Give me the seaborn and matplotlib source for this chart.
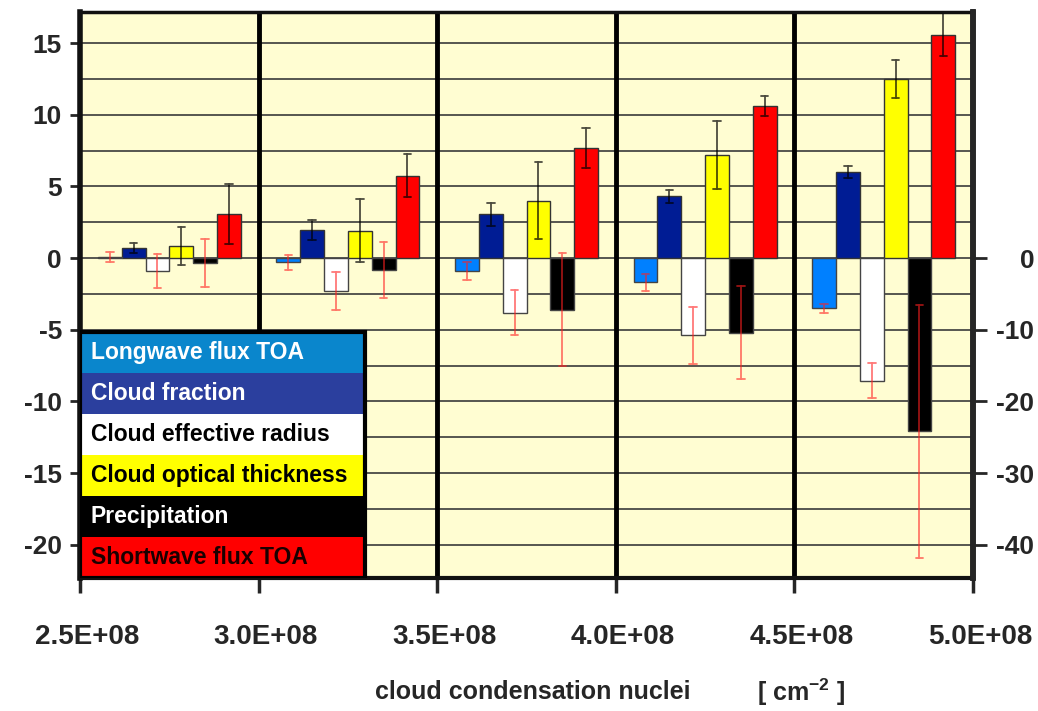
import numpy as np
import pandas as pd
import matplotlib
matplotlib.use("Agg")
import matplotlib.pyplot as plt
import matplotlib.transforms as mtransforms
import seaborn as sns
from matplotlib.patches import Rectangle
from matplotlib.ticker import MultipleLocator, FuncFormatter

# group centres (cloud condensation nuclei, cm-2)
ccn = [2.75e8, 3.25e8, 3.75e8, 4.25e8, 4.75e8]
series = ["Longwave flux TOA", "Cloud fraction", "Cloud effective radius",
          "Cloud optical thickness", "Precipitation", "Shortwave flux TOA"]

# left axis series
cloud_fraction = [0.7, 1.95, 3.05, 4.3, 6.0]
cloud_fraction_err = [0.35, 0.7, 0.8, 0.45, 0.4]
optical_thickness = [0.85, 1.9, 4.0, 7.2, 12.5]
optical_thickness_err = [1.35, 2.2, 2.7, 2.4, 1.3]
shortwave = [3.05, 5.75, 7.7, 10.6, 15.6]
shortwave_err = [2.1, 1.5, 1.4, 0.7, 1.5]

# right axis series
longwave = [0.2, -0.6, -1.8, -3.4, -7.0]
longwave_err = [0.7, 1.0, 1.3, 1.2, 0.66]
eff_radius = [-1.8, -4.6, -7.6, -10.8, -17.1]
eff_radius_err = [2.4, 2.6, 3.1, 4.0, 2.4]
precip = [-0.7, -1.7, -7.2, -10.4, -24.2]
precip_err = [3.3, 3.9, 7.9, 6.5, 17.6]

bar_colors = {"Longwave flux TOA": "#0080FF", "Cloud fraction": "#001C94",
              "Cloud effective radius": "#FFFFFF", "Cloud optical thickness": "#FFFF00",
              "Precipitation": "#000000", "Shortwave flux TOA": "#FF0000"}
legend_colors = ["#0A86CC", "#2B3F9E", "#FFFFFF", "#FFFF00", "#000000", "#FF0000"]
legend_text_colors = ["white", "white", "black", "black", "white", "#1a0000"]


def rows(name, vals, errs):
    # two points per bar so that min/max give the error range
    out = []
    for x, v, e in zip(ccn, vals, errs):
        out.append((x, name, v - e))
        out.append((x, name, v + e))
    return out


left_df = pd.DataFrame(rows("Cloud fraction", cloud_fraction, cloud_fraction_err)
                       + rows("Cloud optical thickness", optical_thickness, optical_thickness_err)
                       + rows("Shortwave flux TOA", shortwave, shortwave_err),
                       columns=["ccn", "series", "value"])
right_df = pd.DataFrame(rows("Longwave flux TOA", longwave, longwave_err)
                        + rows("Cloud effective radius", eff_radius, eff_radius_err)
                        + rows("Precipitation", precip, precip_err),
                        columns=["ccn", "series", "value"])

sns.set_style("ticks")
plt.rcParams['font.family'] = ['Liberation Sans', 'DejaVu Sans']
plt.rcParams['font.weight'] = 'bold'
plt.rcParams['axes.unicode_minus'] = False
plt.rcParams['mathtext.fontset'] = 'custom'
plt.rcParams['mathtext.rm'] = 'Liberation Sans:bold'
plt.rcParams['mathtext.bf'] = 'Liberation Sans:bold'

fig = plt.figure(figsize=(10.38, 7.11), dpi=100)
ax = fig.add_axes([0.0771, 0.187, 0.8603, 0.796])
ax.set_facecolor("#FFFDD2")
ax2 = ax.twinx()

minmax = lambda v: (v.min(), v.max())

sns.barplot(data=left_df, x="ccn", y="value", hue="series", hue_order=series,
            palette=bar_colors, native_scale=True, estimator="mean", errorbar=minmax,
            capsize=0.25, err_kws={"color": "black", "alpha": 0.7, "linewidth": 1.3},
            edgecolor="#333333", linewidth=1, width=0.8, saturation=1,
            legend=False, ax=ax)
sns.barplot(data=right_df, x="ccn", y="value", hue="series", hue_order=series,
            palette=bar_colors, native_scale=True, estimator="mean", errorbar=minmax,
            capsize=0.25, err_kws={"color": "#FF2020", "alpha": 0.6, "linewidth": 1.3},
            edgecolor="#444444", linewidth=1, width=0.8, saturation=1,
            legend=False, ax=ax2)

ax.set_xlim(2.5e8, 5.0e8)
ax.set_ylim(-22.33, 17.17)
ax2.set_ylim(-44.66, 34.34)

# grid and separators
ax.yaxis.set_major_locator(MultipleLocator(5))
ax.yaxis.set_minor_locator(MultipleLocator(2.5))
ax.grid(axis="y", which="both", color="#3a3a3a", linewidth=1.2)
ax.grid(axis="x", visible=False)
ax.set_axisbelow(True)
for xb in [3.0e8, 3.5e8, 4.0e8, 4.5e8]:
    ax.axvline(xb, color="black", linewidth=3.5, zorder=1.5)

ax.set_xticks([2.5e8, 3.0e8, 3.5e8, 4.0e8, 4.5e8, 5.0e8])
ax.xaxis.set_major_formatter(FuncFormatter(lambda v, p: f"{v:.1E}"))
ax.tick_params(axis="x", length=11, width=2.5, pad=22, labelsize=20)
ax.tick_params(axis="y", which="major", length=7, width=2, pad=6, labelsize=19)
ax.tick_params(axis="y", which="minor", length=0)
ax2.set_yticks([0, -10, -20, -30, -40])
ax2.tick_params(axis="y", length=10, width=2, pad=34, labelsize=19)
for tl in ax2.get_yticklabels():
    tl.set_ha("right")
shift = mtransforms.ScaledTranslation(7 / 100, 0, fig.dpi_scale_trans)
for tl in ax.get_xticklabels():
    tl.set_transform(tl.get_transform() + shift)
for tl in ax.get_xticklabels() + ax.get_yticklabels():
    tl.set_fontweight("bold")

for side, lw in [("left", 4), ("right", 4), ("bottom", 3), ("top", 2.5)]:
    ax.spines[side].set_linewidth(lw)
    ax.spines[side].set_color("#111111")
for side in ["left", "bottom", "top"]:
    ax2.spines[side].set_visible(False)
ax2.spines["right"].set_linewidth(4)

ax.set_xlabel("")
ax.set_ylabel("")
ax2.set_xlabel("")
ax2.set_ylabel("")

fig.text(0.513, 0.027, "cloud condensation nuclei", ha="center", va="center",
         fontsize=18, fontweight="bold")
fig.text(0.772, 0.027, r"[ cm$^{-2}$ ]", ha="center", va="center",
         fontsize=18, fontweight="bold")

# legend box
row_h = 0.435 / len(series)
for i, name in enumerate(series):
    y0 = 0.435 - (i + 1) * row_h
    ax2.add_patch(Rectangle((0, y0), 0.319, row_h, transform=ax2.transAxes,
                            facecolor=legend_colors[i], edgecolor="none", zorder=10))
    ax2.text(0.012, y0 + row_h / 2, name, transform=ax2.transAxes, ha="left",
             va="center", fontsize=16.5, fontweight="bold",
             color=legend_text_colors[i], zorder=11)
ax2.add_patch(Rectangle((0, 0), 0.319, 0.435, transform=ax2.transAxes,
                        facecolor="none", edgecolor="black", linewidth=3, zorder=12))

fig.savefig("out.png", dpi=100)
